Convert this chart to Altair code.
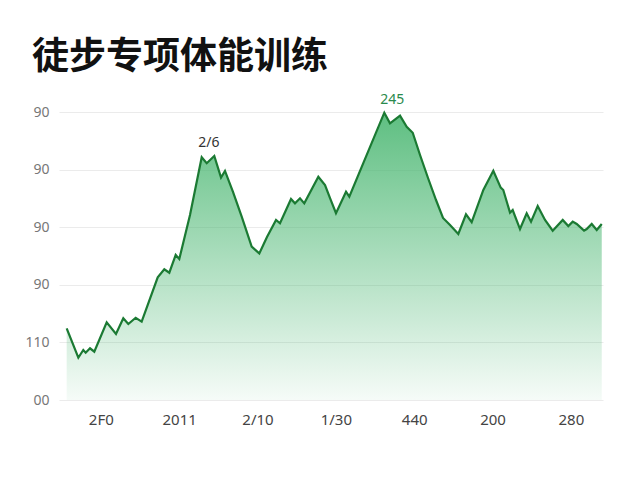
import altair as alt
import pandas as pd

title_text = "徒步专项体能训练"

days = [3.47, 5.70, 6.65, 7.11, 7.94, 8.76, 11.13, 12.91, 14.31, 15.27, 16.68, 17.83,
        20.90, 22.16, 23.12, 24.34, 25.03, 27.08, 29.32, 30.28, 31.73, 33.02, 33.78,
        35.31, 36.98, 38.89, 40.35, 41.82, 43.55, 44.31, 46.42, 47.18, 48.14, 48.96,
        51.65, 52.93, 53.89, 55.03, 56.95, 57.58, 64.28, 65.37, 67.29, 68.57, 69.72,
        71.12, 72.65, 74.18, 75.52, 76.86, 78.45, 79.92, 81.01, 83.24, 85.15, 86.57,
        87.06, 88.35, 88.86, 90.26, 91.54, 92.37, 93.65, 95.05, 96.52, 98.44, 99.51,
        100.35, 101.12, 102.52, 103.03, 103.99, 104.95, 105.91]
values = [62.2, 36.7, 43.4, 41.1, 44.9, 41.9, 67.4, 57.3, 70.9, 66.0, 71.4, 68.0,
          106.5, 113.5, 110.5, 125.9, 122.4, 160.6, 210.7, 205.5, 211.8, 193.0, 198.8,
          180.6, 159.1, 133.1, 127.3, 141.5, 156.3, 153.4, 174.5, 170.7, 175.1, 170.7,
          193.8, 186.6, 175.3, 162.1, 180.8, 176.5, 249.4, 240.2, 246.8, 237.2, 232.0,
          212.7, 192.7, 173.6, 158.0, 151.9, 144.1, 161.2, 154.3, 182.3, 199.0, 184.3,
          182.3, 162.6, 164.9, 148.4, 162.1, 154.8, 168.4, 156.3, 147.0, 156.3, 151.0,
          154.8, 152.8, 147.0, 148.4, 152.8, 147.6, 152.8]

x_tick_values = [10, 25, 40, 55, 70, 85, 100]
x_tick_labels = ["2F0", "2011", "2/10", "1/30", "440", "200", "280"]
y_tick_values = [0, 50, 100, 150, 200, 250]
y_tick_labels = ["00", "110", "90", "90", "90", "90"]

ann_days = [30.7, 65.8]
ann_values = [211.8, 249.4]
ann_texts = ["2/6", "245"]
ann_colors = ["#333333", "#2a8a4c"]

df = pd.DataFrame({"day": days, "value": values})
ann = pd.DataFrame({"day": ann_days, "value": ann_values, "text": ann_texts, "color": ann_colors})


def label_expr(vals, labels):
    arr_v = "[" + ",".join(str(v) for v in vals) + "]"
    arr_l = "[" + ",".join("'" + l + "'" for l in labels) + "]"
    return f"{arr_l}[indexof({arr_v}, datum.value)]"


x_enc = alt.X("day:Q", scale=alt.Scale(domain=[2, 106.15], nice=False, zero=False),
              axis=alt.Axis(values=x_tick_values, labelExpr=label_expr(x_tick_values, x_tick_labels),
                            grid=False, domain=False, ticks=False, labelPadding=12,
                            labelFontSize=15, labelColor="#444444", labelFont="Noto Sans",
                            title=None))
y_enc = alt.Y("value:Q", scale=alt.Scale(domain=[0, 250], nice=False),
              axis=alt.Axis(values=y_tick_values, labelExpr=label_expr(y_tick_values, y_tick_labels),
                            grid=True, gridColor="#ebebeb", gridWidth=1, domain=False, ticks=False,
                            labelPadding=10, labelFontSize=14, labelColor="#777777",
                            labelFont="Noto Sans", title=None))

area = alt.Chart(df).mark_area(
    color=alt.Gradient(
        gradient="linear",
        stops=[alt.GradientStop(color="rgba(72,182,112,0.88)", offset=0),
               alt.GradientStop(color="rgba(72,182,112,0.05)", offset=1)],
        x1=1, x2=1, y1=0, y2=1),
).encode(x=x_enc, y=y_enc)

line = alt.Chart(df).mark_line(color="#1b7a33", strokeWidth=2.2).encode(x="day:Q", y="value:Q")

labels = alt.Chart(ann).mark_text(dy=-6, baseline="bottom", fontSize=14, font="Noto Sans").encode(
    x="day:Q", y="value:Q", text="text:N", color=alt.Color("color:N", scale=None))

chart = alt.layer(area, line, labels).properties(
    width=544, height=288,
    autosize=alt.AutoSizeParams(type="none"),
    padding={"left": 51, "top": 104, "right": 25, "bottom": 60},
    background="white",
    title=alt.TitleParams(title_text, anchor="start", frame="bounds", fontSize=37,
                          font="Noto Sans CJK SC", fontWeight="bold", color="#111111",
                          offset=16, dx=7),
).configure_view(stroke=None)

chart.save("out.html", embed_options={"renderer": "svg", "actions": False})
